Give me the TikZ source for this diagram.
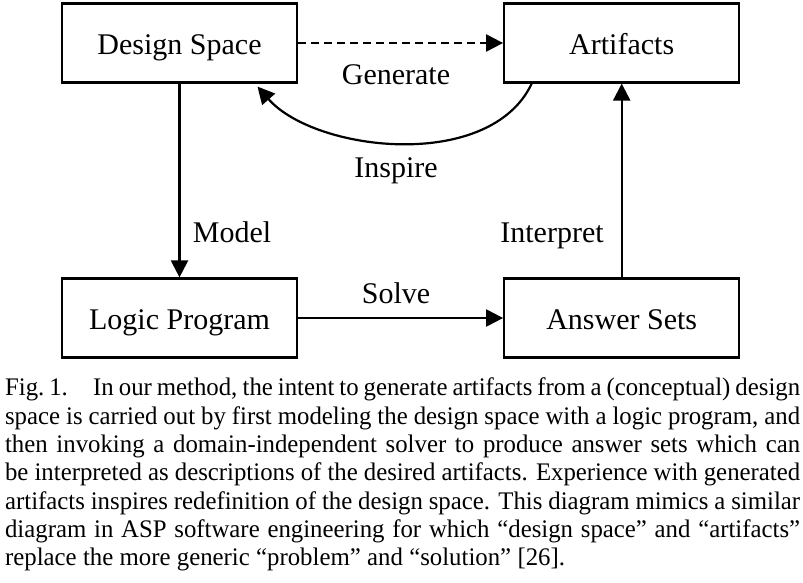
\documentclass[tikz,border=0pt]{standalone}
\usepackage{fontspec}
\setmainfont{Liberation Serif}
\newfontfamily\capfont[FakeStretch=0.98, Ligatures=TeX]{Liberation Serif}
\usepackage{tikz}
\usetikzlibrary{arrows.meta, positioning, shapes}

\newcommand{\capspace}{\spaceskip=0.25em plus 0.3em minus 0.13em\relax}
\newcommand{\capline}[1]{\makebox[795pt][s]{\capspace #1}\\}

\begin{document}
\begin{tikzpicture}[line width=2.2pt, font=\fontsize{30}{34}\selectfont,
  >={Triangle[length=17pt, width=17pt]},
  block/.style={draw, minimum width=235pt, minimum height=79pt, inner sep=0pt,
                text height=23pt, text depth=0pt},
  lbl/.style={draw=none, anchor=base, inner sep=0pt}]

\useasboundingbox (0pt,0pt) rectangle (803pt,-582pt);

\node [block                          ] (ds)  at (179.5pt,-43pt) {Design Space};
\node [block, right=205pt of ds       ] (art) {Artifacts};
\node [block                          ] (lp)  at (179.5pt,-318pt) {Logic Program};
\node [block, right=205pt of lp       ] (as)  {Answer Sets};

\node [lbl] (gen)    at (396pt,-84pt)  {Generate};
\node [lbl] (insp)   at (396pt,-177pt) {Inspire};
\node [lbl] (model)  at (232pt,-242pt) {Model};
\node [lbl] (interp) at (552pt,-242pt) {Interpret};
\node [lbl] (solve)  at (396pt,-303pt) {Solve};

\coordinate (insp-a) at ([xshift=-90pt]art.south);
\coordinate (insp-b) at ([xshift=78pt, yshift=-3pt]ds.south);

\path [draw, ->, dash pattern=on 8pt off 5pt] (ds)  edge (art);
\path [draw, ->] (ds)  edge (lp);
\path [draw, ->] (lp)  edge (as);
\path [draw, ->] (as)  edge (art);
\path [draw, ->] (insp-a) .. controls (490pt,-172pt) and (315pt,-152pt) .. (insp-b);

% caption, one box per printed line
\node [anchor=north west, inner sep=0pt, align=left,
       font=\capfont\fontsize{25.3}{28.3}\selectfont\capspace] (cap) at (4pt,-377pt)
{\capline{Fig.~1.\quad In our method, the intent to generate artifacts from a (conceptual) design}
\capline{space is carried out by first modeling the design space with a logic program, and}
\capline{then invoking a domain-independent solver to produce answer sets which can}
\capline{be interpreted as descriptions of the desired artifacts. Experience with generated}
\capline{artifacts inspires redefinition of the design space. This diagram mimics a similar}
\capline{diagram in ASP software engineering for which “design space” and “artifacts”}
replace the more generic “problem” and “solution” [26].};

\end{tikzpicture}
\end{document}
